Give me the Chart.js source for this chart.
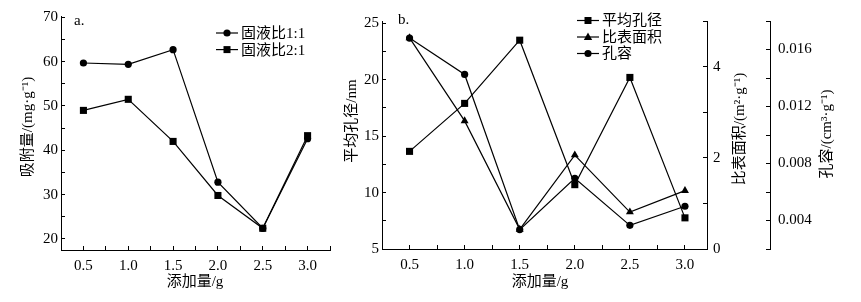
<!DOCTYPE html>
<html>
<head>
<meta charset="utf-8">
<script src="https://cdn.jsdelivr.net/npm/chart.js@4.4.0/dist/chart.umd.min.js"></script>
<style>
  body { margin: 0; background: #fff; width: 861px; height: 302px; overflow: hidden; position: relative; }
  #wrapA { position: absolute; left: 0; top: 0; width: 345px; height: 302px; }
  #wrapB { position: absolute; left: 335px; top: 0; width: 526px; height: 302px; }
</style>
</head>
<body>
<div id="wrapA"><canvas id="chartA"></canvas></div>
<div id="wrapB"><canvas id="chartB"></canvas></div>
<script>
// x values (添加量/g)
const doses = [0.5, 1.0, 1.5, 2.0, 2.5, 3.0];

// panel a: 吸附量
const ratio11 = [59.7, 59.4, 62.7, 32.8, 22.4, 42.6];
const ratio21 = [49.0, 51.5, 42.0, 29.8, 22.4, 43.3];

// panel b
const poreSize = [13.65, 17.9, 23.5, 10.7, 20.2, 7.76];
const surfArea = [4.63, 2.81, 0.43, 2.06, 0.81, 1.28];
const poreVol = [0.0168, 0.01425, 0.00336, 0.00696, 0.00366, 0.0050];

// labelled ticks
const xTicks = [0.5, 1.0, 1.5, 2.0, 2.5, 3.0];
const yTicksA = [20, 30, 40, 50, 60, 70];
const yTicksB = [5, 10, 15, 20, 25];
const y2Ticks = [0, 2, 4];
const y3Ticks = [0.004, 0.008, 0.012, 0.016];

const FONT = "'Liberation Serif', 'Noto Sans CJK SC', serif";
Chart.defaults.font.family = FONT;
Chart.defaults.font.size = 15;
Chart.defaults.color = "#000";

function pts(ys) {
  return doses.map((x, i) => ({ x: x, y: ys[i] }));
}

function labelOf(list, digits) {
  return function (v) {
    const t = list.find((k) => Math.abs(k - v) < 1e-9);
    return t === undefined ? "" : t.toFixed(digits);
  };
}

function axis(extra, ticks) {
  return Object.assign(
    {
      type: "linear",
      border: { display: true, color: "#000", width: 1 },
      grid: { drawOnChartArea: false, tickLength: -4, color: "#000", tickColor: "#000" },
      ticks: Object.assign({ autoSkip: false, maxRotation: 0, color: "#000", includeBounds: false }, ticks),
    },
    extra
  );
}

function series(label, data, style, axisId) {
  return {
    label: label,
    data: data,
    yAxisID: axisId,
    borderColor: "#000",
    backgroundColor: "#000",
    borderWidth: 1.2,
    pointStyle: style,
    pointRadius: style === "rect" ? 5 : style === "triangle" ? 4.6 : 3.6,
    pointBorderWidth: 0,
    tension: 0,
  };
}

function marker(ctx, style, x, y) {
  ctx.beginPath();
  if (style === "rect") {
    ctx.rect(x - 3.5, y - 3.5, 7, 7);
  } else if (style === "triangle") {
    ctx.moveTo(x, y - 4.5);
    ctx.lineTo(x + 4.2, y + 3);
    ctx.lineTo(x - 4.2, y + 3);
    ctx.closePath();
  } else {
    ctx.arc(x, y, 3.6, 0, Math.PI * 2);
  }
  ctx.fill();
}

// titles, panel letters and the line+marker legend
const deco = {
  id: "deco",
  afterDraw(chart, args, opts) {
    const ctx = chart.ctx;
    ctx.save();
    ctx.fillStyle = "#000";
    ctx.strokeStyle = "#000";
    (opts.texts || []).forEach((t) => {
      ctx.save();
      ctx.translate(t.x, t.y);
      if (t.rot) ctx.rotate(t.rot);
      ctx.font = (t.size || 15) + "px " + FONT;
      ctx.textAlign = t.align || "center";
      ctx.textBaseline = "middle";
      ctx.fillText(t.text, 0, 0);
      ctx.restore();
    });
    if (opts.legend) {
      const lg = opts.legend;
      ctx.font = "15px " + FONT;
      ctx.textAlign = "left";
      ctx.textBaseline = "middle";
      chart.data.datasets.forEach((ds, i) => {
        const y = lg.y + i * lg.gap;
        ctx.lineWidth = 1.2;
        ctx.beginPath();
        ctx.moveTo(lg.x, y);
        ctx.lineTo(lg.x + 22, y);
        ctx.stroke();
        marker(ctx, ds.pointStyle, lg.x + 11, y);
        ctx.fillText(ds.label, lg.x + 25, y + 1);
      });
    }
    ctx.restore();
  },
};

new Chart(document.getElementById("chartA"), {
  type: "line",
  data: {
    datasets: [
      series("固液比1:1", pts(ratio11), "circle", "y"),
      series("固液比2:1", pts(ratio21), "rect", "y"),
    ],
  },
  options: {
    responsive: true,
    maintainAspectRatio: false,
    animation: false,
    events: [],
    layout: { padding: { top: 15, right: 15, left: 0, bottom: 0 } },
    plugins: {
      legend: { display: false },
      tooltip: { enabled: false },
      deco: {
        texts: [
          { text: "a.", x: 74, y: 21, align: "left" },
          { text: "吸附量/(mg·g⁻¹)", x: 28, y: 127, rot: -Math.PI / 2 },
          { text: "添加量/g", x: 195, y: 282 },
        ],
        legend: { x: 216, y: 33, gap: 16.6 },
      },
    },
    scales: {
      x: axis(
        { position: "bottom", min: 0.25, max: 3.25, afterFit: (s) => { s.height = 52; } },
        { stepSize: 0.25, padding: 11, callback: labelOf(xTicks, 1) }
      ),
      y: axis(
        { position: "left", min: 17.5, max: 70.3, afterFit: (s) => { s.width = 61; } },
        { stepSize: 5, padding: 7, callback: labelOf(yTicksA, 0) }
      ),
    },
  },
  plugins: [deco],
});

new Chart(document.getElementById("chartB"), {
  type: "line",
  data: {
    datasets: [
      series("平均孔径", pts(poreSize), "rect", "y"),
      series("比表面积", pts(surfArea), "triangle", "y2"),
      series("孔容", pts(poreVol), "circle", "y3"),
    ],
  },
  options: {
    responsive: true,
    maintainAspectRatio: false,
    animation: false,
    events: [],
    layout: { padding: { top: 17, right: 0, left: 0, bottom: 0 } },
    plugins: {
      legend: { display: false },
      tooltip: { enabled: false },
      deco: {
        texts: [
          { text: "b.", x: 63, y: 20, align: "left" },
          { text: "平均孔径/nm", x: 17, y: 121, rot: -Math.PI / 2 },
          { text: "比表面积/(m²·g⁻¹)", x: 405, y: 129, rot: -Math.PI / 2 },
          { text: "孔容/(cm³·g⁻¹)", x: 492, y: 134, rot: -Math.PI / 2 },
          { text: "添加量/g", x: 205, y: 282 },
        ],
        legend: { x: 242, y: 20.5, gap: 16.5 },
      },
    },
    scales: {
      x: axis(
        { position: "bottom", min: 0.25, max: 3.2, afterFit: (s) => { s.height = 53; } },
        { stepSize: 0.25, padding: 11, callback: labelOf(xTicks, 1) }
      ),
      y: axis(
        { position: "left", min: 5, max: 25.2, afterFit: (s) => { s.width = 47; } },
        { stepSize: 2.5, padding: 7, callback: labelOf(yTicksB, 0) }
      ),
      y2: axis(
        { position: "right", weight: 0, min: 0, max: 5, afterFit: (s) => { s.width = 63; } },
        { stepSize: 1, padding: 10, callback: labelOf(y2Ticks, 0) }
      ),
      y3: axis(
        { position: "right", weight: 1, min: 0.002, max: 0.018, afterFit: (s) => { s.width = 91; } },
        { stepSize: 0.002, padding: 12, callback: labelOf(y3Ticks, 3) }
      ),
    },
  },
  plugins: [deco],
});
</script>
</body>
</html>
